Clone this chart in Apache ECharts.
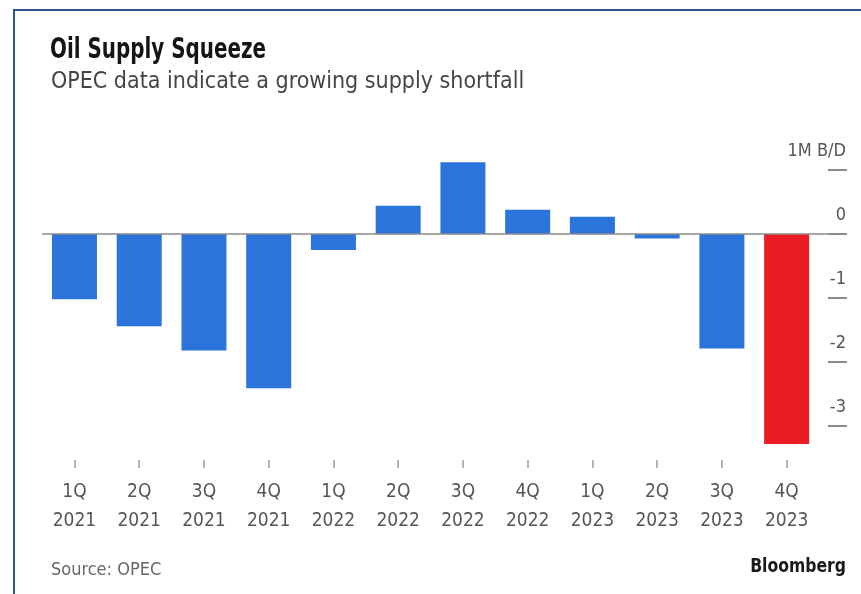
<!DOCTYPE html>
<html>
<head>
<meta charset="utf-8">
<script src="https://cdn.jsdelivr.net/npm/echarts@6/dist/echarts.min.js"></script>
<style>
  html, body { margin: 0; padding: 0; background: #fff; }
  #wrap { position: relative; width: 861px; height: 594px; overflow: hidden; }
  #chart { position: absolute; left: 0; top: 0; width: 861px; height: 594px; }
  #frame { position: absolute; left: 13px; top: 9px; width: 900px; height: 700px;
           border-top: 2.5px solid #2c5690; border-left: 2.5px solid #2c5690; pointer-events: none; }
</style>
</head>
<body>
<div id="wrap">
  <div id="chart"></div>
  <div id="frame"></div>
</div>
<script>
const quarters = ['1Q','2Q','3Q','4Q','1Q','2Q','3Q','4Q','1Q','2Q','3Q','4Q'];
const years = ['2021','2021','2021','2021','2022','2022','2022','2022','2023','2023','2023','2023'];
const balance = [-1.02, -1.44, -1.82, -2.41, -0.25, 0.44, 1.12, 0.38, 0.27, -0.07, -1.79, -3.28];
const yTicks = [1, 0, -1, -2, -3];
const yUnitLabel = '1M B/D';
const titleText = 'Oil Supply Squeeze';
const subtitleText = 'OPEC data indicate a growing supply shortfall';
const sourceText = 'Source: OPEC';
const brandText = 'Bloomberg';

const categories = quarters.map((q, i) => q + '\n' + years[i]);
const FONT = "'DejaVu Sans Condensed', 'Noto Sans', sans-serif";
const BLUE = '#2b74dc';
const RED = '#ec1c24';

const chart = echarts.init(document.getElementById('chart'), null, { renderer: 'canvas' });
chart.setOption({
  animation: false,
  backgroundColor: '#ffffff',
  graphic: [
    { type: 'text', x: 50, y: 50.5, scaleX: 0.79, silent: true,
      style: { text: titleText, font: "bold 28px " + FONT, fill: '#151515',
               align: 'left', verticalAlign: 'middle' } },
    { type: 'text', x: 51, y: 82, silent: true,
      style: { text: subtitleText, font: "23px " + FONT, fill: '#454545',
               align: 'left', verticalAlign: 'middle' } },
    { type: 'text', x: 51, y: 570.5, silent: true,
      style: { text: sourceText, font: "18px " + FONT, fill: '#666666',
               align: 'left', verticalAlign: 'middle' } },
    { type: 'text', x: 846, y: 567, scaleX: 0.87, silent: true,
      style: { text: brandText, font: "bold 20px " + FONT, fill: '#1a1a1a',
               align: 'right', verticalAlign: 'middle' } }
  ],
  grid: { left: 42.1, right: 42, top: 138, height: 320, containLabel: false },
  xAxis: {
    type: 'category',
    data: categories,
    offset: 2,
    axisLine: { show: false, onZero: false },
    axisTick: { show: true, alignWithLabel: true, length: 8, lineStyle: { color: '#9a9a9a', width: 1.5 } },
    axisLabel: { fontFamily: FONT, fontSize: 19, color: '#555555', lineHeight: 29, margin: 18 },
    splitLine: { show: false }
  },
  yAxis: [
    {
      type: 'value',
      position: 'right',
      min: -3.5,
      max: 1.5,
      offset: 9,
      axisLine: { show: false },
      splitLine: { show: false },
      axisTick: { show: true, inside: false, length: 19, customValues: yTicks,
                  lineStyle: { color: '#666666', width: 1.5 } },
      axisLabel: {
        show: true,
        customValues: yTicks,
        inside: false,
        margin: 18,
        align: 'right',
        verticalAlign: 'bottom',
        lineHeight: 38,
        fontFamily: FONT, fontSize: 18, color: '#555555',
        formatter: v => (v === 1 ? yUnitLabel : String(v))
      }
    },
    {
      type: 'value',
      position: 'right',
      min: -3.5,
      max: 1.5,
      offset: 0,
      axisLine: { show: false },
      splitLine: { show: false },
      axisLabel: { show: false },
      axisTick: { show: true, length: 10, customValues: [0],
                  lineStyle: { color: '#8a8a8a', width: 1.5 } }
    }
  ],
  series: [{
    type: 'bar',
    data: balance,
    barWidth: 45,
    itemStyle: {
      color: p => (p.dataIndex === balance.length - 1 ? RED : BLUE)
    },
    markLine: {
      silent: true,
      symbol: 'none',
      label: { show: false },
      lineStyle: { type: 'solid', color: '#8a8a8a', width: 1.5 },
      data: [{ yAxis: 0 }]
    }
  }]
});
</script>
</body>
</html>
